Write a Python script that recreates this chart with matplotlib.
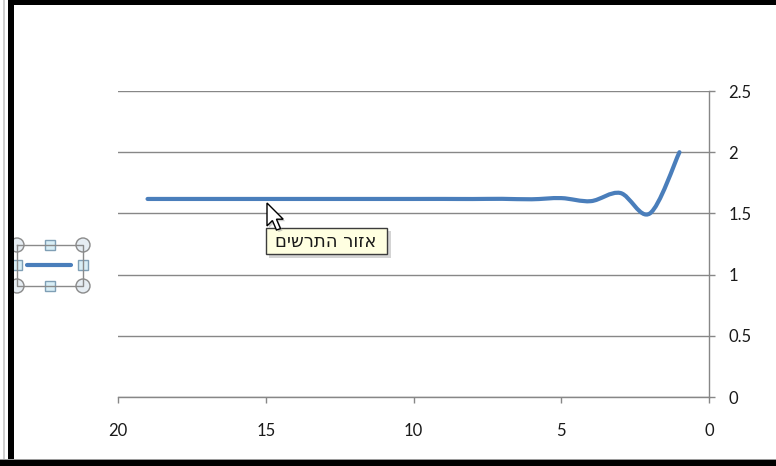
import matplotlib
matplotlib.use("Agg")
import matplotlib.pyplot as plt
from matplotlib.path import Path
from matplotlib.patches import PathPatch, Rectangle, Circle, Polygon

# golden ratio convergence: F(n+1)/F(n) plotted against n
n_values = [1, 2, 3, 4, 5, 6, 7, 8, 9, 10, 11, 12, 13, 14, 15, 16, 17, 18, 19]
ratios = [2.0, 1.5, 1.6667, 1.6, 1.625, 1.6154, 1.6190, 1.6176, 1.6182, 1.6180,
          1.6180, 1.6180, 1.6180, 1.6180, 1.6180, 1.6180, 1.6180, 1.6180, 1.6180]
x_ticks = [20, 15, 10, 5, 0]
y_ticks = [0, 0.5, 1, 1.5, 2, 2.5]
tooltip = "אזור התרשים"

W, H = 776, 466
line_col = "#4a7ebb"
grid_col = "#878787"

fig = plt.figure(figsize=(W / 100, H / 100), dpi=100)
fig.patch.set_facecolor("white")

ax = fig.add_axes([118 / W, 69 / H, 591 / W, 306 / H])
ax.set_xlim(20, 0)
ax.set_ylim(0, 2.5)
ax.set_xticks(x_ticks)
ax.set_yticks(y_ticks)
ax.set_xticklabels([str(v) for v in x_ticks])
ax.set_yticklabels(["0", "0.5", "1", "1.5", "2", "2.5"])
ax.yaxis.tick_right()
ax.grid(axis="y", color=grid_col, lw=1.0)
ax.set_axisbelow(True)
for s in ["top", "left"]:
    ax.spines[s].set_visible(False)
for s in ["bottom", "right"]:
    ax.spines[s].set_color(grid_col)
    ax.spines[s].set_linewidth(1.0)
ax.tick_params(axis="x", direction="out", length=4, width=1, color=grid_col,
               pad=15, labelsize=12)
ax.tick_params(axis="y", direction="out", length=4, width=1, color=grid_col,
               pad=10, labelsize=12)
for lbl in ax.get_xticklabels() + ax.get_yticklabels():
    lbl.set_fontfamily("Lato")
    lbl.set_color("#1a1a1a")

# smoothed line (cubic bezier through each point, Excel style)
pts = list(zip(n_values, ratios))
verts = [pts[0]]
codes = [Path.MOVETO]
for i in range(len(pts) - 1):
    p0 = pts[i - 1] if i > 0 else pts[i]
    p1 = pts[i]
    p2 = pts[i + 1]
    p3 = pts[i + 2] if i + 2 < len(pts) else pts[i + 1]
    c1 = (p1[0] + (p2[0] - p0[0]) / 6, p1[1] + (p2[1] - p0[1]) / 6)
    c2 = (p2[0] - (p3[0] - p1[0]) / 6, p2[1] - (p3[1] - p1[1]) / 6)
    verts += [c1, c2, p2]
    codes += [Path.CURVE4] * 3
ax.add_patch(PathPatch(Path(verts, codes), facecolor="none", edgecolor=line_col,
                       lw=3.0, capstyle="round", joinstyle="round", clip_on=False))

# overlay in pixel coordinates for the legend handles, tooltip and frame
ov = fig.add_axes([0, 0, 1, 1])
ov.set_xlim(0, W)
ov.set_ylim(H, 0)
ov.axis("off")

# selected legend with its sizing handles
hx = [17, 50, 83]
hy = [245, 265, 286]
ov.plot([hx[0], hx[2], hx[2], hx[0], hx[0]], [hy[0], hy[0], hy[2], hy[2], hy[0]],
        color="#8a8a8a", lw=1.0)
ov.plot([27, 71], [265, 265], color=line_col, lw=3.0, solid_capstyle="round")
for cx in [hx[0], hx[2]]:
    for cy in [hy[0], hy[2]]:
        ov.add_patch(Circle((cx, cy), 7, facecolor="#e6edf3", edgecolor="#8a8a8a", lw=1.0))
for cx, cy in [(hx[1], hy[0]), (hx[1], hy[2]), (hx[0], hy[1]), (hx[2], hy[1])]:
    ov.add_patch(Rectangle((cx - 5, cy - 5), 10, 10, facecolor="#d8eef6",
                           edgecolor="#7f9fb5", lw=1.0))

# tooltip with shadow
ov.add_patch(Rectangle((269, 231), 122, 27, facecolor="#b8b8b8", edgecolor="none", alpha=0.6))
ov.add_patch(Rectangle((266, 228), 121, 26, facecolor="#ffffe1", edgecolor="#3c3c3c", lw=1.0))
ov.text(326, 242, tooltip[::-1], ha="center", va="center", fontsize=13,
        family="DejaVu Sans", color="#1a1a1a")

# mouse pointer
tip = (267, 203)
arrow = [(0, 0), (0, 17), (4, 13), (7, 20), (10, 19), (7, 12), (12, 12)]
sc = 1.35
ov.add_patch(Polygon([(tip[0] + 2 + x * sc, tip[1] + 2 + y * sc) for x, y in arrow],
                     closed=True, facecolor="#999999", edgecolor="none", alpha=0.5))
ov.add_patch(Polygon([(tip[0] + x * sc, tip[1] + y * sc) for x, y in arrow],
                     closed=True, facecolor="white", edgecolor="black", lw=1.0,
                     joinstyle="miter"))

# window frame
ov.add_patch(Rectangle((0, 0), 3, H, facecolor="white", edgecolor="none"))
ov.add_patch(Rectangle((3, 0), 2, H, facecolor="#cfcfcf", edgecolor="none"))
ov.add_patch(Rectangle((8, 0), 6, H, facecolor="black", edgecolor="none"))
ov.add_patch(Rectangle((8, 0), W - 8, 4.5, facecolor="black", edgecolor="none"))
ov.add_patch(Rectangle((0, 459), W, 1, facecolor="#9a9a9a", edgecolor="none"))
ov.add_patch(Rectangle((0, 460), W, 6, facecolor="black", edgecolor="none"))

fig.savefig("out.png", dpi=100)
